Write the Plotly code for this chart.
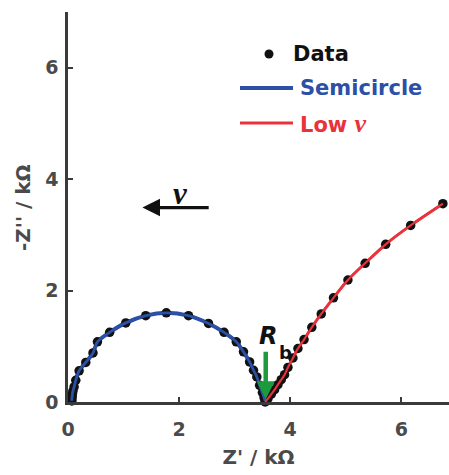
import plotly.graph_objects as go

# Nyquist plot: impedance spectrum (Z' vs -Z'')
semi_x = [0.07, 0.07, 0.075, 0.08, 0.09, 0.11, 0.14, 0.20, 0.32, 0.45, 0.53, 0.75,
          1.04, 1.40, 1.77, 2.17, 2.53, 2.81, 3.03, 3.16, 3.27, 3.34, 3.40, 3.45,
          3.50, 3.53, 3.55]
semi_y = [0.02, 0.06, 0.10, 0.15, 0.20, 0.27, 0.39, 0.56, 0.71, 0.88, 1.08, 1.25,
          1.42, 1.55, 1.60, 1.55, 1.41, 1.25, 1.08, 0.90, 0.72, 0.57, 0.45, 0.30,
          0.17, 0.08, 0.02]

low_x = [3.55, 3.60, 3.66, 3.72, 3.78, 3.84, 3.90, 3.96, 4.05, 4.14, 4.25, 4.39,
         4.56, 4.78, 5.04, 5.35, 5.72, 6.17, 6.75]
low_y = [0.00, 0.06, 0.14, 0.22, 0.31, 0.40, 0.49, 0.62, 0.79, 0.96, 1.12, 1.34,
         1.58, 1.87, 2.19, 2.49, 2.83, 3.17, 3.56]

rb_value = 3.56          # bulk resistance (kΩ)
x_ticks = [0, 2, 4, 6]
y_ticks = [0, 2, 4, 6]

FONT = "DejaVu Sans, sans-serif"
SERIF = "Liberation Serif, DejaVu Serif, serif"
GRAY = "#4a4a4a"
BLUE = "#2b50a6"
RED = "#e8323c"
GREEN = "#1c9a3c"
BLACK = "#111111"

nu = "<span style='font-family:Liberation Serif, serif;font-size:26px'><i>ν</i></span>"
legend_labels = ["Data", "Semicircle", "Low " + nu]

fig = go.Figure()

# fitted curves under the measured points
fig.add_trace(go.Scatter(
    x=semi_x, y=semi_y, mode="lines", showlegend=False,
    line=dict(color=BLUE, width=4, shape="spline", smoothing=0.8), cliponaxis=False))
fig.add_trace(go.Scatter(
    x=low_x, y=low_y, mode="lines", showlegend=False,
    line=dict(color=RED, width=3, shape="spline", smoothing=0.8), cliponaxis=False))
fig.add_trace(go.Scatter(
    x=semi_x + low_x, y=semi_y + low_y, mode="markers", showlegend=False,
    marker=dict(color=BLACK, size=9.5), cliponaxis=False))
# curves again on top of the dots
fig.add_trace(go.Scatter(
    x=semi_x, y=semi_y, mode="lines", showlegend=False,
    line=dict(color=BLUE, width=2.8, shape="spline", smoothing=0.8), cliponaxis=False))
fig.add_trace(go.Scatter(
    x=low_x, y=low_y, mode="lines", showlegend=False,
    line=dict(color=RED, width=2.2, shape="spline", smoothing=0.8), cliponaxis=False))

# R_b arrow (pointing down onto the real axis)
fig.add_annotation(x=rb_value, y=0.05, ax=rb_value, ay=0.93, xref="x", yref="y",
                   axref="x", ayref="y", showarrow=True, arrowhead=2, arrowsize=0.8,
                   arrowwidth=4.5, arrowcolor=GREEN, text="")
fig.add_annotation(x=3.60, y=1.18, xref="x", yref="y", showarrow=False,
                   text="<i>R</i>",
                   font=dict(family=FONT, size=24, color=BLACK, weight="bold"))
fig.add_annotation(x=3.91, y=0.89, xref="x", yref="y", showarrow=False,
                   text="b",
                   font=dict(family=FONT, size=18, color=BLACK, weight="bold"))

# direction of increasing frequency
fig.add_annotation(x=1.34, y=3.49, ax=2.56, ay=3.49, xref="x", yref="y",
                   axref="x", ayref="y", showarrow=True, arrowhead=2, arrowsize=1.1,
                   arrowwidth=3.2, arrowcolor=BLACK, text="")
fig.add_annotation(x=2.03, y=3.75, xref="x", yref="y", showarrow=False,
                   text="<i>ν</i>",
                   font=dict(family=SERIF, size=31, color=BLACK, weight="bold"))

# legend and y-axis title, drawn in paper coordinates
PX_L, PX_W, PY_B, PY_H = 68.0, 381.0, 402.0, 390.0
def px(v):
    return (v - PX_L) / PX_W
def py(v):
    return (PY_B - v) / PY_H

fig.add_shape(type="circle", xref="paper", yref="paper", xsizemode="pixel", ysizemode="pixel",
              xanchor=px(269), yanchor=py(54), x0=-4.5, x1=4.5, y0=-4.5, y1=4.5,
              fillcolor=BLACK, line=dict(width=0))
fig.add_shape(type="line", xref="paper", yref="paper", x0=px(240), x1=px(293),
              y0=py(88), y1=py(88), line=dict(color=BLUE, width=4))
fig.add_shape(type="line", xref="paper", yref="paper", x0=px(240), x1=px(293),
              y0=py(123), y1=py(123), line=dict(color=RED, width=3))
for label, color, left, top in zip(legend_labels, [BLACK, BLUE, RED], [291, 298, 298], [54, 88, 123]):
    fig.add_annotation(x=px(left), y=py(top), xref="paper", yref="paper",
                       xanchor="left", yanchor="middle", showarrow=False, text=label,
                       font=dict(family=FONT, size=21, color=color, weight="bold"))

fig.add_annotation(x=px(9), y=py(207), xref="paper", yref="paper", showarrow=False,
                   textangle=-90, text="-Z'' / kΩ",
                   font=dict(family=FONT, size=20, color=GRAY, weight="bold"))

axis_common = dict(
    showgrid=False, zeroline=False, showline=True, linecolor="#3a3a3a", linewidth=2.5,
    ticks="inside", ticklen=5, tickwidth=1.5, tickcolor="#3a3a3a",
    tickfont=dict(family=FONT, size=19, color=GRAY, weight="bold"),
)

fig.update_xaxes(range=[0, 6.86], tickvals=x_ticks, ticklabelstandoff=8, **axis_common,
                 title=dict(text="Z' / kΩ", standoff=12,
                            font=dict(family=FONT, size=20, color=GRAY, weight="bold")))
fig.update_yaxes(range=[0, 7], tickvals=y_ticks, ticklabelstandoff=3, **axis_common)

fig.update_layout(
    width=449, height=475, autosize=False,
    margin=dict(l=68, r=0, t=12, b=73),
    plot_bgcolor="white", paper_bgcolor="white",
    showlegend=False,
)

fig.write_html("out.html")
